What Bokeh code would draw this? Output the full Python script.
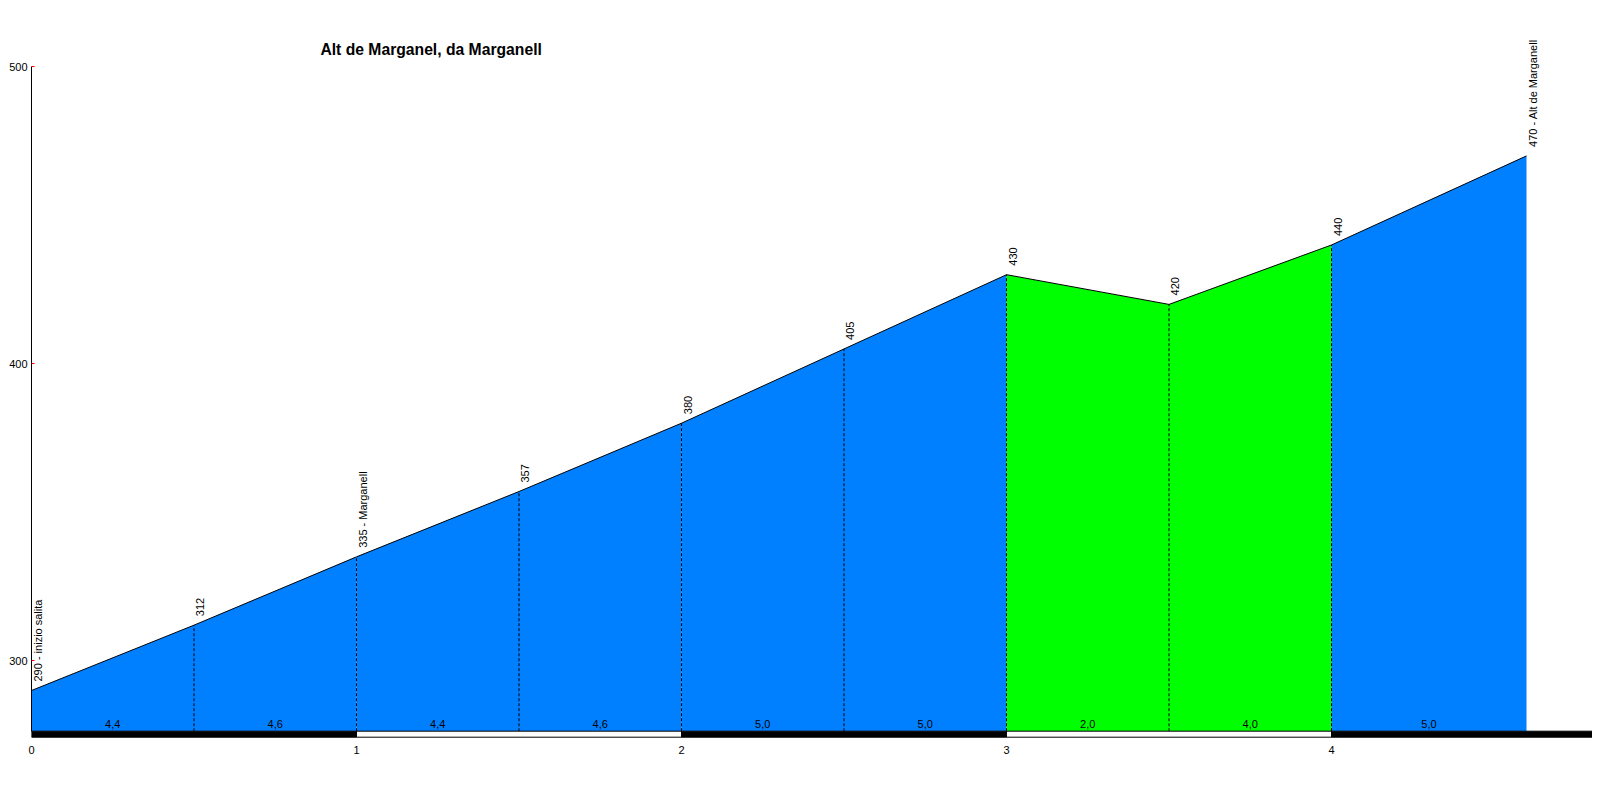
import math
from bokeh.plotting import figure
from bokeh.models import ColumnDataSource, FixedTicker, Range1d, Label
from bokeh.core.properties import value
from bokeh.embed import file_html
from bokeh.resources import INLINE

# ---------------- data ----------------
title_text = "Alt de Marganel, da Marganell"
km = [0, 0.5, 1, 1.5, 2, 2.5, 3, 3.5, 4, 4.6]
elev = [290, 312, 335, 357, 380, 405, 430, 420, 440, 470]
names = ["inizio salita", "", "Marganell", "", "", "", "", "", "", "Alt de Marganell"]
grades = [4.4, 4.6, 4.4, 4.6, 5.0, 5.0, 2.0, 4.0, 5.0]
seg_colors = ["#0080FF", "#0080FF", "#0080FF", "#0080FF", "#0080FF", "#0080FF",
              "#00FF00", "#00FF00", "#0080FF"]
x_ticks = [0, 1, 2, 3, 4]
y_ticks = [300, 400, 500]

# ---------------- layout constants ----------------
FONT = "Liberation Sans"
W, H = 1592, 768
LEFT = 31
X_END = (W - LEFT) / 325.0
Y_TOP, Y_BOT = 522.32, 273.84
BASE = 276.3          # top of the distance bar
BAR_BOT = 274.28      # bottom of the distance bar

p = figure(width=W, height=H, output_backend="svg", toolbar_location=None,
           x_range=Range1d(0, X_END), y_range=Range1d(Y_BOT, Y_TOP),
           min_border_left=LEFT, min_border_right=0, min_border_top=0,
           min_border_bottom=30)
p.outline_line_color = None
p.grid.visible = False
p.background_fill_color = "white"
p.border_fill_color = "white"

# profile segments
xs, ys = [], []
for i in range(len(km) - 1):
    xs.append([km[i], km[i], km[i + 1], km[i + 1]])
    ys.append([BASE, elev[i], elev[i + 1], BASE])
p.patches(xs=xs, ys=ys, fill_color=seg_colors, line_color=None)

# top outline
p.line(km, elev, line_color="black", line_width=1)

# dashed verticals
mid_x = km[1:-1]
p.segment(x0=mid_x, y0=[BASE] * len(mid_x), x1=mid_x, y1=elev[1:-1],
          line_color="black", line_width=1, line_dash="3 2")

# distance bar: alternating black / white per km, black to the right edge
bar_l, bar_r, bar_c = [], [], []
last_full = math.floor(km[-1])
for k in range(0, last_full + 1):
    bar_l.append(k)
    bar_r.append(k + 1 if k < last_full else X_END)
    bar_c.append("black" if k % 2 == 0 else "white")
p.quad(left=bar_l, right=bar_r, bottom=BAR_BOT, top=BASE,
       fill_color=bar_c, line_color="black", line_width=1)

# point labels
lab = [f"{e} - {n}" if n else f"{e}" for e, n in zip(elev, names)]
src = ColumnDataSource(dict(x=km, y=elev, t=lab))
p.text(x="x", y="y", text="t", source=src, angle=math.pi / 2,
       text_align="left", text_baseline="middle", x_offset=6, y_offset=-9,
       text_font=value(FONT), text_font_size="11px", text_color="black")

# grade labels
gx = [(km[i] + km[i + 1]) / 2 for i in range(len(grades))]
gt = [f"{g:.1f}".replace(".", ",") for g in grades]
p.text(x=gx, y=[BASE] * len(gx), text=gt, text_align="center",
       text_baseline="alphabetic", y_offset=-7,
       text_font=value(FONT), text_font_size="11px", text_color="black")

# title
p.add_layout(Label(x=0.889, y=505.9, text=title_text, text_font=FONT,
                   text_font_size="15.7px", text_font_style="bold",
                   text_color="black", text_align="left",
                   text_baseline="alphabetic"))

# axes
ya = p.yaxis[0]
ya.ticker = FixedTicker(ticks=y_ticks)
ya.bounds = (BASE, 500)
ya.axis_line_color = "black"
ya.major_tick_in = 3
ya.major_tick_out = 0
ya.major_tick_line_color = "red"
ya.minor_tick_line_color = None
ya.major_label_standoff = 4
ya.major_label_text_font = FONT
ya.major_label_text_font_size = "11px"
ya.major_label_text_color = "black"

xa = p.xaxis[0]
xa.ticker = FixedTicker(ticks=x_ticks)
xa.axis_line_color = None
xa.major_tick_line_color = None
xa.minor_tick_line_color = None
xa.major_label_standoff = 1
xa.major_label_text_font = FONT
xa.major_label_text_font_size = "11px"
xa.major_label_text_color = "black"

open("out.html", "w").write(file_html(p, INLINE))
